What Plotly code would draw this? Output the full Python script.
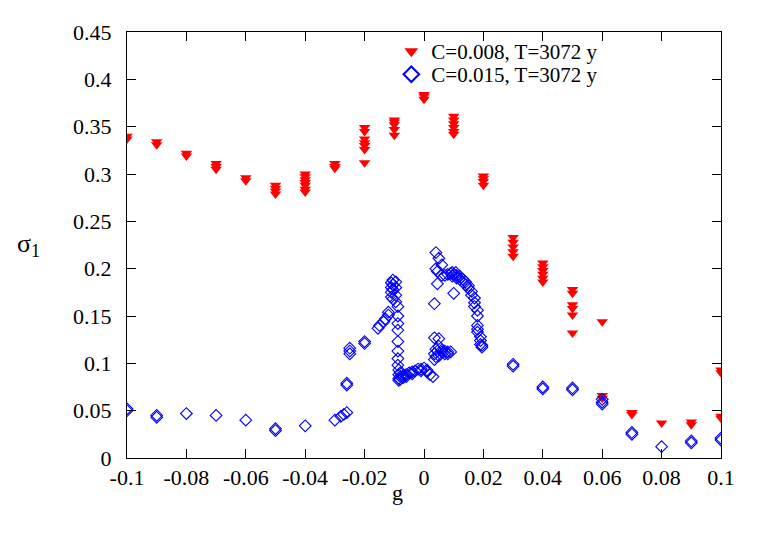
import plotly.graph_objects as go

# ---------- DATA ----------
# C=0.008, T=3072 y  (red, filled triangles)
g_008 = [-0.1, -0.1, -0.09, -0.09, -0.08, -0.08,
         -0.07, -0.07, -0.07, -0.06, -0.06,
         -0.05, -0.05, -0.05, -0.05,
         -0.04, -0.04, -0.04, -0.04, -0.04, -0.04, -0.04,
         -0.03, -0.03, -0.03,
         -0.02, -0.02, -0.02, -0.02, -0.02, -0.02, -0.02,
         -0.01, -0.01, -0.01, -0.01, -0.01,
         0.0, 0.0, 0.0,
         0.01, 0.01, 0.01, 0.01, 0.01, 0.01,
         0.02, 0.02, 0.02, 0.02,
         0.03, 0.03, 0.03, 0.03, 0.03,
         0.04, 0.04, 0.04, 0.04, 0.04, 0.04,
         0.05, 0.05, 0.05, 0.05, 0.05, 0.05,
         0.06, 0.06, 0.06,
         0.07, 0.07, 0.08, 0.09, 0.09,
         0.1, 0.1, 0.1, 0.1]
s_008 = [0.340, 0.337, 0.334, 0.331, 0.322, 0.319,
         0.311, 0.308, 0.305, 0.296, 0.293,
         0.288, 0.285, 0.282, 0.279,
         0.300, 0.297, 0.294, 0.291, 0.288, 0.284, 0.281,
         0.311, 0.308, 0.306,
         0.349, 0.345, 0.337, 0.333, 0.330, 0.326, 0.312,
         0.357, 0.355, 0.352, 0.347, 0.341,
         0.384, 0.382, 0.379,
         0.361, 0.357, 0.353, 0.349, 0.345, 0.342,
         0.298, 0.295, 0.292, 0.288,
         0.233, 0.228, 0.223, 0.218, 0.213,
         0.206, 0.202, 0.198, 0.194, 0.190, 0.186,
         0.178, 0.174, 0.162, 0.158, 0.151, 0.132,
         0.144, 0.066, 0.063,
         0.048, 0.046, 0.037, 0.038, 0.035,
         0.093, 0.090, 0.044, 0.042]

# C=0.015, T=3072 y  (blue, open diamonds)
g_015 = [-0.1, -0.1, -0.09, -0.09, -0.08, -0.07, -0.06,
         -0.05, -0.05, -0.04, -0.03,
         -0.028, -0.027, -0.026, -0.026, -0.026,
         -0.025, -0.025, -0.025, -0.02, -0.02,
         -0.0155, -0.015, -0.0135, -0.013, -0.012, -0.012,
         -0.011, -0.011, -0.011, -0.011,
         -0.0105, -0.0105, -0.0105, -0.0105,
         -0.0095, -0.0095, -0.0095, -0.0095,
         -0.0088, -0.0088, -0.0088, -0.0088, -0.0088, -0.0088, -0.0088, -0.0088,
         -0.0085, -0.0085, -0.0085, -0.0085,
         -0.008, -0.008, -0.008, -0.007, -0.007, -0.006, -0.006,
         -0.005, -0.004, -0.004, -0.003, -0.002, -0.001, -0.001,
         0.0, 0.001, 0.001, 0.002, 0.003,
         0.0035, 0.0035, 0.0035, 0.0035,
         0.004, 0.004, 0.004, 0.004,
         0.0045, 0.0045, 0.0045,
         0.005, 0.005, 0.005, 0.005,
         0.006, 0.006, 0.006, 0.006,
         0.007, 0.007, 0.007,
         0.008, 0.008, 0.008,
         0.009, 0.009, 0.0095, 0.0095,
         0.010, 0.010, 0.0107, 0.011, 0.011,
         0.012, 0.012, 0.013, 0.013, 0.014, 0.014, 0.015, 0.015,
         0.016, 0.016, 0.017, 0.017, 0.017,
         0.018, 0.018, 0.018, 0.018, 0.018,
         0.019, 0.019, 0.019, 0.0195, 0.0195,
         0.03, 0.03, 0.04, 0.04, 0.05, 0.05,
         0.06, 0.06, 0.06, 0.07, 0.07, 0.08, 0.09, 0.09, 0.1, 0.1]
s_015 = [0.052, 0.050, 0.045, 0.043, 0.047, 0.045, 0.040,
         0.031, 0.029, 0.034, 0.040,
         0.044, 0.046, 0.048, 0.079, 0.077,
         0.116, 0.113, 0.110, 0.123, 0.121,
         0.137, 0.140, 0.144, 0.147, 0.151, 0.154,
         0.170, 0.175, 0.180, 0.185,
         0.168, 0.178, 0.183, 0.188,
         0.172, 0.180, 0.186, 0.165,
         0.160, 0.150, 0.142, 0.135, 0.123, 0.113, 0.105, 0.098,
         0.093, 0.088, 0.084, 0.082,
         0.090, 0.086, 0.083, 0.087, 0.085, 0.088, 0.086,
         0.090, 0.091, 0.089, 0.092, 0.094, 0.094, 0.092,
         0.095, 0.093, 0.091, 0.088, 0.086,
         0.104, 0.110, 0.127, 0.163,
         0.107, 0.115, 0.200, 0.217,
         0.113, 0.184, 0.197,
         0.108, 0.118, 0.126, 0.211,
         0.112, 0.114, 0.193, 0.204,
         0.110, 0.113, 0.193,
         0.110, 0.112, 0.194,
         0.112, 0.195, 0.196, 0.192,
         0.194, 0.174, 0.196, 0.193, 0.190,
         0.192, 0.189, 0.189, 0.186, 0.186, 0.183, 0.182, 0.179,
         0.176, 0.172, 0.169, 0.164, 0.160,
         0.156, 0.150, 0.140, 0.136, 0.133,
         0.128, 0.124, 0.120, 0.117, 0.119,
         0.099, 0.097, 0.075, 0.073, 0.074, 0.072,
         0.062, 0.059, 0.057, 0.027, 0.025, 0.012, 0.018, 0.016, 0.021, 0.019]

x_ticks = [-0.1, -0.08, -0.06, -0.04, -0.02, 0, 0.02, 0.04, 0.06, 0.08, 0.1]
x_ticktext = ["-0.1", "-0.08", "-0.06", "-0.04", "-0.02", "0", "0.02", "0.04", "0.06", "0.08", "0.1"]
y_ticks = [0, 0.05, 0.1, 0.15, 0.2, 0.25, 0.3, 0.35, 0.4, 0.45]
y_ticktext = ["0", "0.05", "0.1", "0.15", "0.2", "0.25", "0.3", "0.35", "0.4", "0.45"]

SERIF = "Times New Roman, Liberation Serif, serif"

# ---------- FIGURE ----------
fig = go.Figure()
fig.add_trace(go.Scatter(
    x=g_008, y=s_008, mode="markers", name="C=0.008, T=3072 y",
    marker=dict(symbol="triangle-down", size=10, color="#ff0000",
                line=dict(width=0)),
    legend="legend", showlegend=True
))
fig.add_trace(go.Scatter(
    x=g_015, y=s_015, mode="markers", name="C=0.015, T=3072 y",
    marker=dict(symbol="diamond-open", size=9, color="#0000ff",
                line=dict(width=1.1)),
    legend="legend2", showlegend=True
))

axis_style = dict(
    showline=True, linecolor="black", linewidth=1, mirror="ticks",
    ticks="inside", ticklen=9, tickcolor="black", showgrid=False,
    zeroline=False, tickfont=dict(family=SERIF, size=22, color="black"),
)

# one legend per series so the rows sit as close as gnuplot puts them
leg_style = dict(x=0.445, xanchor="left", yanchor="middle",
                 bgcolor="rgba(0,0,0,0)", font=dict(family=SERIF, size=21),
                 itemsizing="constant")

fig.update_layout(
    width=763, height=534,
    margin=dict(l=119, r=50, t=19, b=84),
    paper_bgcolor="white", plot_bgcolor="white",
    font=dict(family=SERIF, size=22, color="black"),
    showlegend=True,
    xaxis=dict(range=[-0.1, 0.1], tickvals=x_ticks, ticktext=x_ticktext,
               **axis_style),
    yaxis=dict(range=[0, 0.45], tickvals=y_ticks, ticktext=y_ticktext,
               ticklabelstandoff=10, **axis_style),
    legend=dict(y=0.954, **leg_style),
    legend2=dict(y=0.900, **leg_style),
)

# axis labels as gnuplot places them (horizontal sigma)
fig.add_annotation(text="g", xref="paper", yref="paper", x=0.455, y=-0.115,
                   showarrow=False, font=dict(family=SERIF, size=22))
fig.add_annotation(text="σ<sub>1</sub>", xref="paper", yref="paper",
                   x=-0.165, y=0.5, xanchor="center", showarrow=False,
                   font=dict(family=SERIF, size=26))

fig.write_html("out.html")
